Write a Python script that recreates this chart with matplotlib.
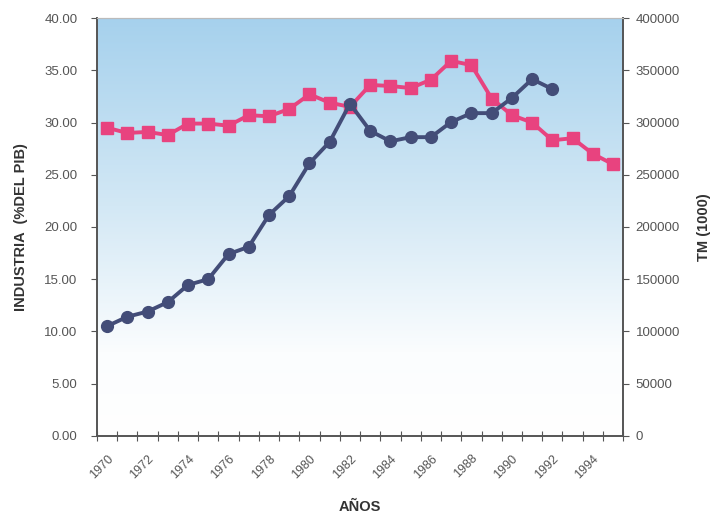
import numpy as np
import matplotlib.pyplot as plt
from matplotlib.colors import LinearSegmentedColormap

plt.rcParams['font.family'] = ['Liberation Sans', 'DejaVu Sans']

# 数据
years = list(range(1970, 1996))
industria = [29.5, 29.0, 29.1, 28.8, 29.9, 29.9, 29.7, 30.7, 30.6, 31.3,
             32.7, 31.9, 31.5, 33.6, 33.5, 33.3, 34.1, 35.9, 35.5, 32.3,
             30.7, 30.0, 28.3, 28.5, 27.0, 26.0]
tm_years = list(range(1970, 1993))
tm = [105000, 114000, 119000, 128000, 144500, 150000, 174000, 181000, 211500,
      229500, 261000, 281500, 318000, 292000, 282000, 286000, 286000, 300500,
      309000, 309000, 323500, 341500, 332000]
xtick_labels = [str(y) for y in range(1970, 1996, 2)]

pink = '#e8437f'
navy = '#434d78'

fig = plt.figure(figsize=(7.18, 5.17), dpi=100)
ax = fig.add_axes([0.135, 0.157, 0.733, 0.808])
ax2 = ax.twinx()

# 背景渐变：上蓝下白
grad_cmap = LinearSegmentedColormap.from_list(
    'sky', [(0.0, '#ffffff'), (0.2, '#fbfdfe'), (0.55, '#d3e8f5'), (1.0, '#a6d1ed')])
grad = np.linspace(0, 1, 256).reshape(-1, 1)
ax.imshow(grad, cmap=grad_cmap, aspect='auto', origin='lower',
          extent=(0, 1, 0, 1), transform=ax.transAxes, zorder=0)

x = np.arange(len(years))
x_tm = np.arange(len(tm_years))
ax.plot(x, industria, color=pink, lw=2.8, marker='s', ms=8.5, zorder=3)
ax2.plot(x_tm, tm, color=navy, lw=2.8, marker='o', ms=8.5, zorder=3)

ax.set_xlim(-0.5, len(years) - 0.5)
ax.set_ylim(0, 40)
ax2.set_ylim(0, 400000)
ax.set_yticks(np.arange(0, 40.1, 5))
ax.set_yticklabels([f'{v:.2f}' for v in np.arange(0, 40.1, 5)])
ax2.set_yticks(np.arange(0, 400001, 50000))
ax2.set_yticklabels([str(v) for v in range(0, 400001, 50000)])

# x轴：刻度在类别之间，标签每两年一个
ax.set_xticks(np.arange(-0.5, len(years), 1), minor=False)
ax.set_xticklabels([])
ax.set_xticks(np.arange(0, len(years), 2), minor=True)
ax.set_xticklabels(xtick_labels, minor=True, rotation=45, ha='right',
                   rotation_mode='anchor', fontsize=9, color='#555555')
ax.tick_params(axis='x', which='major', direction='inout', length=7, color='#555555')
ax.tick_params(axis='x', which='minor', length=0, pad=12)

ax.tick_params(axis='y', direction='out', length=4, color='#555555',
               labelsize=9.5, labelcolor='#555555', pad=10)
ax2.tick_params(axis='y', direction='out', length=4, color='#555555',
                labelsize=9.5, labelcolor='#555555', pad=5)

for a in (ax, ax2):
    for side in ('left', 'right', 'bottom'):
        a.spines[side].set_color('#555555')
        a.spines[side].set_linewidth(1.2)
    a.spines['top'].set_color('#bbbbbb')
    a.spines['top'].set_linewidth(0.8)

ax.set_ylabel('INDUSTRIA  (%DEL PIB)', fontsize=10.5, fontweight='bold',
              color='#333333', labelpad=12)
ax2.set_ylabel('TM (1000)', fontsize=10.5, fontweight='bold', color='#333333',
               rotation=90, labelpad=12)
ax.set_xlabel('AÑOS', fontsize=10.5, fontweight='bold', color='#333333', labelpad=14)

plt.savefig('out.png', dpi=100)
